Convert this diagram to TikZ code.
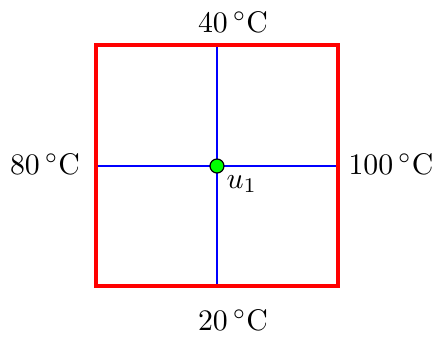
\documentclass[tikz,border=0pt]{standalone}
\begin{document}
\begin{tikzpicture}[
    x=0.0118cm,
    y=-0.0118cm,
    wall/.style={red, line width=1.1pt},
    probe/.style={blue, thick},
    temp/.style={inner sep=0pt}
  ]
    \useasboundingbox (0, 0) rectangle (433, 336);

    % Placa y sus bordes
    \coordinate (nw) at (96, 45);
    \coordinate (se) at (338, 286);
    \coordinate (n) at (217, 45);
    \coordinate (s) at (217, 286);
    \coordinate (w) at (96, 166);
    \coordinate (e) at (338, 166);

    \draw[probe] (n) -- (s);
    \draw[probe] (w) -- (e);
    \draw[wall] (nw) rectangle (se);

    % Punto interior
    \node[circle, draw=black, fill=green, inner sep=0pt, minimum size=0.165cm]
      (u) at (217, 166) {};
    \node[anchor=north west, inner sep=1pt] (ulabel) at (223, 172) {$u_1$};

    % Temperaturas de los bordes
    \node[temp] (top) at (233, 22) {$40\,^{\circ}$C};
    \node[temp] (bottom) at (233, 320) {$20\,^{\circ}$C};
    \node[temp] (left) at (45, 164) {$80\,^{\circ}$C};
    \node[temp] (right) at (391, 164) {$100\,^{\circ}$C};
  \end{tikzpicture}
\end{document}
